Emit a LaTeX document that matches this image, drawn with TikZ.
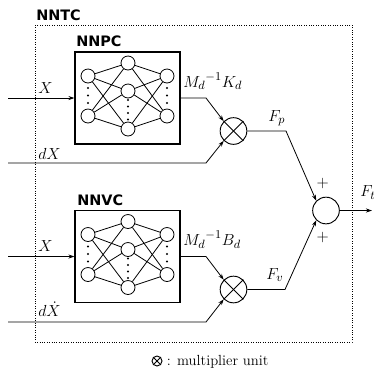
\documentclass[tikz,border=0pt]{standalone}
\usepackage{fontspec}
\newfontfamily\lblfont{DejaVu Sans}
\usetikzlibrary{arrows.meta}
\newcommand{\drawnet}[2]{%
\begin{scope}[shift={(75,#2)}]
 \node[neuron] (#1l1) at (13,24) {};
 \node[neuron] (#1l2) at (13,64) {};
 \node[neuron] (#1m1) at (53,11) {};
 \node[neuron] (#1m2) at (53,39) {};
 \node[neuron] (#1m3) at (53,77) {};
 \node[neuron] (#1r1) at (92,24) {};
 \node[neuron] (#1r2) at (92,64) {};
 \foreach \a in {l1,l2}{\foreach \b in {m1,m2,m3}{\draw[conn] (#1\a) -- (#1\b);}}
 \foreach \a in {m1,m2,m3}{\foreach \b in {r1,r2}{\draw[conn] (#1\a) -- (#1\b);}}
 \foreach \k/\y in {1/36,2/43.5,3/51}{\node[ndot] (#1dl\k) at (13,\y) {}; \node[ndot] (#1dr\k) at (92,\y) {};}
 \foreach \k/\y in {1/48,2/54.5,3/61,4/67.5}{\node[ndot] (#1dm\k) at (53,\y) {};}
\end{scope}}
\begin{document}
\begin{tikzpicture}[x=0.75pt,y=-0.75pt,
  conn/.style={line width=0.6pt},
  arr/.style={conn,-{Stealth[length=4.5pt,width=3pt]}},
  netbox/.style={draw,line width=0.8pt,minimum width=78.75pt,minimum height=69pt,inner sep=0pt},
  neuron/.style={circle,draw,line width=0.6pt,minimum size=10.5pt,inner sep=0pt},
  ndot/.style={circle,fill,minimum size=1.8pt,inner sep=0pt},
  mult/.style={circle,draw,line width=0.7pt,minimum size=20pt,inner sep=0pt},
  sumnode/.style={circle,draw,line width=0.7pt,minimum size=20pt,inner sep=0pt},
  blocklbl/.style={font=\lblfont\bfseries\fontsize{10.8}{12}\selectfont,anchor=base west,inner sep=0pt},
  mlbl/.style={font=\fontsize{12.5}{14}\selectfont,anchor=base west,inner sep=0pt},
  nntcline/.style={line width=0.6pt,dash pattern=on 0.6pt off 1.2pt},
]
\useasboundingbox (0,0) rectangle (374,369);
% outer dotted box
\draw[nntcline] (35,25) rectangle (352,342);
\node[blocklbl] (lntc) at (36,20.7) {NNTC};
% blocks
\node[netbox] (nnpc) at (127.5,98) {};
\node[netbox] (nnvc) at (127.5,256.5) {};
\node[blocklbl] (lnpc) at (76,46.7) {NNPC};
\node[blocklbl] (lnvc) at (77,205.5) {NNVC};
\drawnet{p}{52}
\drawnet{v}{210.5}
% multipliers
\node[mult] (mp) at (233.5,131) {};
\node[mult] (mv) at (233.5,289.5) {};
\foreach \m in {mp,mv}{\draw[conn] (\m.45) -- (\m.225); \draw[conn] (\m.135) -- (\m.315);}
% sum
\node[sumnode] (sum) at (326,210.5) {};
% inputs
\coordinate (xp) at (8,98);
\coordinate (xv) at (8,256.5);
\coordinate (dxp) at (8,163);
\coordinate (dxv) at (8,322);
\coordinate (dxpk) at (206,163);
\coordinate (dxvk) at (206,322);
\coordinate (kp) at (206,98);
\coordinate (kv) at (206,256.5);
\draw[arr] (xp) -- (nnpc.west);
\draw[arr] (xv) -- (nnvc.west);
\draw[arr] (nnpc.east) -- (kp) -- (mp.135);
\draw[arr] (nnvc.east) -- (kv) -- (mv.135);
\draw[arr] (dxp) -- (dxpk) -- (mp.225);
\draw[arr] (dxv) -- (dxvk) -- (mv.225);
% to sum
\coordinate (fpk) at (286,131);
\coordinate (fvk) at (285,289.5);
\coordinate (ftout) at (372,210.5);
\draw[arr] (mp.east) -- (fpk) -- (sum.135);
\draw[arr] (mv.east) -- (fvk) -- (sum.225);
\draw[arr] (sum.east) -- (ftout);
% labels
\node[mlbl] (lx1) at (38,93) {$X$};
\node[mlbl] (ldx) at (38,159) {$dX$};
\node[mlbl] (lx2) at (38,251.7) {$X$};
\node[mlbl] (ldxd) at (38,316.7) {$d\dot{X}$};
\node[mlbl] (lk) at (183,87) {${M_d}^{-1}K_d$};
\node[mlbl] (lb) at (183,245.5) {${M_d}^{-1}B_d$};
\node[mlbl] (lfp) at (268,121) {$F_p$};
\node[mlbl] (lfv) at (266,279) {$F_v$};
\node[mlbl] (lft) at (360,196.7) {$F_t$};
\node[font=\fontsize{12}{14}\selectfont,inner sep=0pt] (pl1) at (322.7,183) {$+$};
\node[font=\fontsize{12}{14}\selectfont,inner sep=0pt] (pl2) at (322.7,237) {$+$};
% legend
\node[circle,draw,line width=0.7pt,minimum size=7.5pt,inner sep=0pt] (lgm) at (157,361) {};
\draw[line width=0.7pt] (lgm.45) -- (lgm.225);
\draw[line width=0.7pt] (lgm.135) -- (lgm.315);
\node[font=\fontsize{11}{13}\selectfont,anchor=base west,inner sep=0pt] (lgt) at (166.5,365) {: multiplier unit};
\end{tikzpicture}
\end{document}
